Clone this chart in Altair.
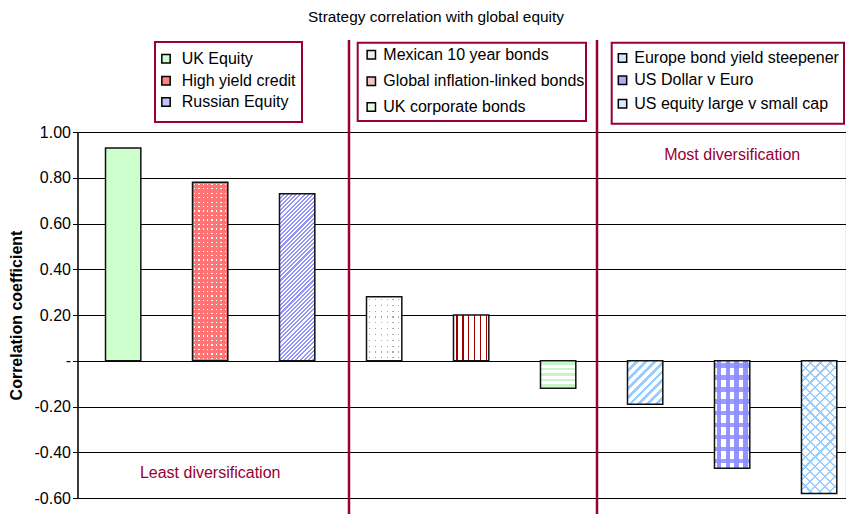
import math
import altair as alt
import pandas as pd

# ---------------- data ----------------
categories = [
    "UK Equity", "High yield credit", "Russian Equity",
    "Mexican 10 year bonds", "Global inflation-linked bonds", "UK corporate bonds",
    "Europe bond yield steepener", "US Dollar v Euro", "US equity large v small cap",
]
correlations = [0.93, 0.78, 0.73, 0.28, 0.20, -0.12, -0.19, -0.47, -0.58]
legend_group = [0, 0, 0, 1, 1, 1, 2, 2, 2]
legend_row = [0, 1, 2, 0, 1, 2, 0, 1, 2]
y_ticks = [-0.6, -0.4, -0.2, 0.0, 0.2, 0.4, 0.6, 0.8, 1.0]
chart_title = ["Strategy correlation with global equity"]
y_title = "Correlation coefficient"
notes = ["Most diversification", "Least diversification"]
note_category = ["US Dollar v Euro", "High yield credit"]
note_value = [0.90, -0.49]

# ---------------- layout / style ----------------
FONT = "Liberation Sans"
CRIMSON = "#990033"
W, H = 768, 366
PAD = {"left": 69.5, "top": 124, "right": 0, "bottom": 16}
Y_MIN, Y_MAX = -0.6, 1.0
P_INNER, P_OUTER, ALIGN = 0.594, 0.211, 0.763
STEP = W / (len(categories) - P_INNER + 2 * P_OUTER)
BAND = STEP * (1 - P_INNER)
PPU = H / (Y_MAX - Y_MIN)
CLEAR = "rgba(255,255,255,0)"

swatch_colors = ["#ccffcc", "#ff8585", "#c2c2ff", "#eeeeee", "#ecc8c8",
                 "#e4fbe4", "#cfe6ff", "#aaaaff", "#d9ecff"]
SW_X = [88.5, 293.8, 545.0]
TX_X = [104.2, 305.8, 556.8]
ROW_Y = [[-73.3, -51.3, -30.0], [-77.3, -50.7, -25.0], [-74.0, -51.7, -28.3]]
BOXES = [(77.5, 224.5, -90, -10), (280.2, 508.5, -89.3, -11), (534.2, 766.5, -89.3, -8.3)]
SEP_X = [271.5, 519.5]


def periodic(n, frac, on, off, phase=0.0):
    out = []
    for i in range(n):
        a = i / n
        s = (i + phase) / n
        e = (i + phase + frac) / n
        b = (i + 1) / n
        out += [{"offset": round(a, 5), "color": off},
                {"offset": round(s, 5), "color": off},
                {"offset": round(s, 5), "color": on},
                {"offset": round(e, 5), "color": on},
                {"offset": round(e, 5), "color": off},
                {"offset": round(b, 5), "color": off}]
    return out


def grad_x(n, frac, on, off, phase=0.0):
    return {"gradient": "linear", "x1": 0, "y1": 0, "x2": 1, "y2": 0,
            "stops": periodic(n, frac, on, off, phase)}


def grad_y(n, frac, on, off, phase=0.0):
    return {"gradient": "linear", "x1": 0, "y1": 0, "x2": 0, "y2": 1,
            "stops": periodic(n, frac, on, off, phase)}


def grad_diag(h, period, frac, on, off, rising=True):
    w = BAND
    n = max(1, round((w + h) / math.sqrt(2) / period))
    t = (w + h) / (w * w + h * h)
    if rising:
        g = {"x1": 0, "y1": 0, "x2": round(t * w, 5), "y2": round(t * h, 5)}
    else:
        g = {"x1": 0, "y1": 1, "x2": round(t * w, 5), "y2": round(1 - t * h, 5)}
    g.update({"gradient": "linear", "stops": periodic(n, frac, on, off)})
    return g


def hpx(v):
    return abs(v) * PPU


hv = [hpx(v) for v in correlations]
patterns = [
    ["#ccffcc"],
    [grad_x(8, 0.3, "white", "#ff7575", 0.3),
     grad_y(max(1, round(hv[1] / 4.5)), 0.3, CLEAR, "#ff7575", 0.3)],
    [grad_diag(hv[2], 2.9, 0.5, "#9494ff", "white", True)],
    [grad_x(6, 0.2, "#a8a8a8", "white", 0.4),
     grad_y(max(1, round(hv[3] / 6)), 0.2, CLEAR, "white", 0.4)],
    [grad_x(6, 0.25, "#990000", "white", 0.45)],
    [grad_y(max(1, round(hv[5] / 5.4)), 0.4, "#c8f5c8", "white", 0.3)],
    [grad_diag(hv[6], 6.4, 0.45, "#99ccff", "white", True)],
    [grad_x(4, 0.5, "#9494ff", "white", 0.25),
     grad_y(max(1, round(hv[7] / 12)), 0.38, "rgba(140,140,255,0.85)", CLEAR, 0.2)],
    [grad_diag(hv[8], 7.0, 0.22, "#99ccff", "white", True),
     grad_diag(hv[8], 7.0, 0.22, "#99ccff", CLEAR, False)],
]

# ---------------- tables ----------------
df = pd.DataFrame({"cat": categories, "val": correlations})
legend_df = pd.DataFrame({
    "cat": categories,
    "sx": [SW_X[g] for g in legend_group],
    "tx": [TX_X[g] for g in legend_group],
    "ty": [ROW_Y[g][r] for g, r in zip(legend_group, legend_row)],
    "col": swatch_colors,
})
box_df = pd.DataFrame({"x": [b[0] for b in BOXES], "x2": [b[1] for b in BOXES],
                       "y": [b[2] for b in BOXES], "y2": [b[3] for b in BOXES]})
sep_df = pd.DataFrame({"x": SEP_X})
note_df = pd.DataFrame({"cat": note_category, "val": note_value, "label": notes})
title_df = pd.DataFrame({"t": chart_title})

x_enc = alt.X("cat:N", sort=categories, axis=None,
              scale=alt.Scale(domain=categories, paddingInner=P_INNER,
                              paddingOuter=P_OUTER, align=ALIGN, round=False))
y_enc = alt.Y(
    "val:Q",
    scale=alt.Scale(domain=[Y_MIN, Y_MAX], nice=False, zero=False),
    axis=alt.Axis(
        values=y_ticks,
        labelExpr="datum.value == 0 ? '-' : (datum.value < 0 ? '-' : '') + format(abs(datum.value), '.2f')",
        title=y_title, titleFont=FONT, titleFontSize=16, titleFontWeight="bold",
        titleColor="black", titlePadding=10,
        labelFont=FONT, labelFontSize=16, labelColor="black", labelPadding=2,
        tickSize=5, tickColor="black", tickWidth=1,
        domainColor="black", domainWidth=1.5,
        grid=True, gridColor="black", gridWidth=1, gridOpacity=1,
    ),
)

layers = []
layers.append(alt.Chart(box_df).mark_rect(fill="white", stroke=CRIMSON, strokeWidth=2).encode(
    x=alt.X("x:Q", scale=None, axis=None), x2="x2:Q",
    y=alt.Y("y:Q", scale=None, axis=None), y2="y2:Q"))
layers.append(alt.Chart(sep_df).mark_rule(color=CRIMSON, strokeWidth=2.5).encode(
    x=alt.X("x:Q", scale=None, axis=None), y=alt.value(-92), y2=alt.value(H + PAD["bottom"])))

for cat, fills in zip(categories, patterns):
    for f in fills:
        layers.append(alt.Chart(df).transform_filter(alt.datum.cat == cat)
                      .mark_bar(fill=f, strokeWidth=0).encode(x=x_enc, y=y_enc))

layers.append(alt.Chart(df).mark_bar(fill="white", fillOpacity=0, stroke="#111111",
                                     strokeWidth=1.5).encode(x=x_enc, y=y_enc))

layers.append(alt.Chart(note_df).mark_text(font=FONT, fontSize=16, color=CRIMSON).encode(
    x=x_enc, y=y_enc, text="label:N"))

layers.append(alt.Chart(legend_df).mark_square(size=70, stroke="black", strokeWidth=1.5,
                                               opacity=1, filled=True).encode(
    x=alt.X("sx:Q", scale=None, axis=None), y=alt.Y("ty:Q", scale=None, axis=None),
    fill=alt.Fill("col:N", scale=None, legend=None)))
layers.append(alt.Chart(legend_df).mark_text(font=FONT, fontSize=16, align="left",
                                             baseline="middle", color="black").encode(
    x=alt.X("tx:Q", scale=None, axis=None), y=alt.Y("ty:Q", scale=None, axis=None),
    text="cat:N"))

layers.append(alt.Chart(title_df).mark_text(font=FONT, fontSize=15.4, color="black",
                                            baseline="top").encode(
    x=alt.value(358.5), y=alt.value(-122), text="t:N"))

chart = alt.layer(*layers).properties(
    width=W, height=H, padding=PAD,
    autosize=alt.AutoSizeParams(type="none"),
    background="white",
).configure_view(strokeWidth=0).configure(font=FONT)

chart.save("out.html", embed_options={"renderer": "svg", "actions": False})
